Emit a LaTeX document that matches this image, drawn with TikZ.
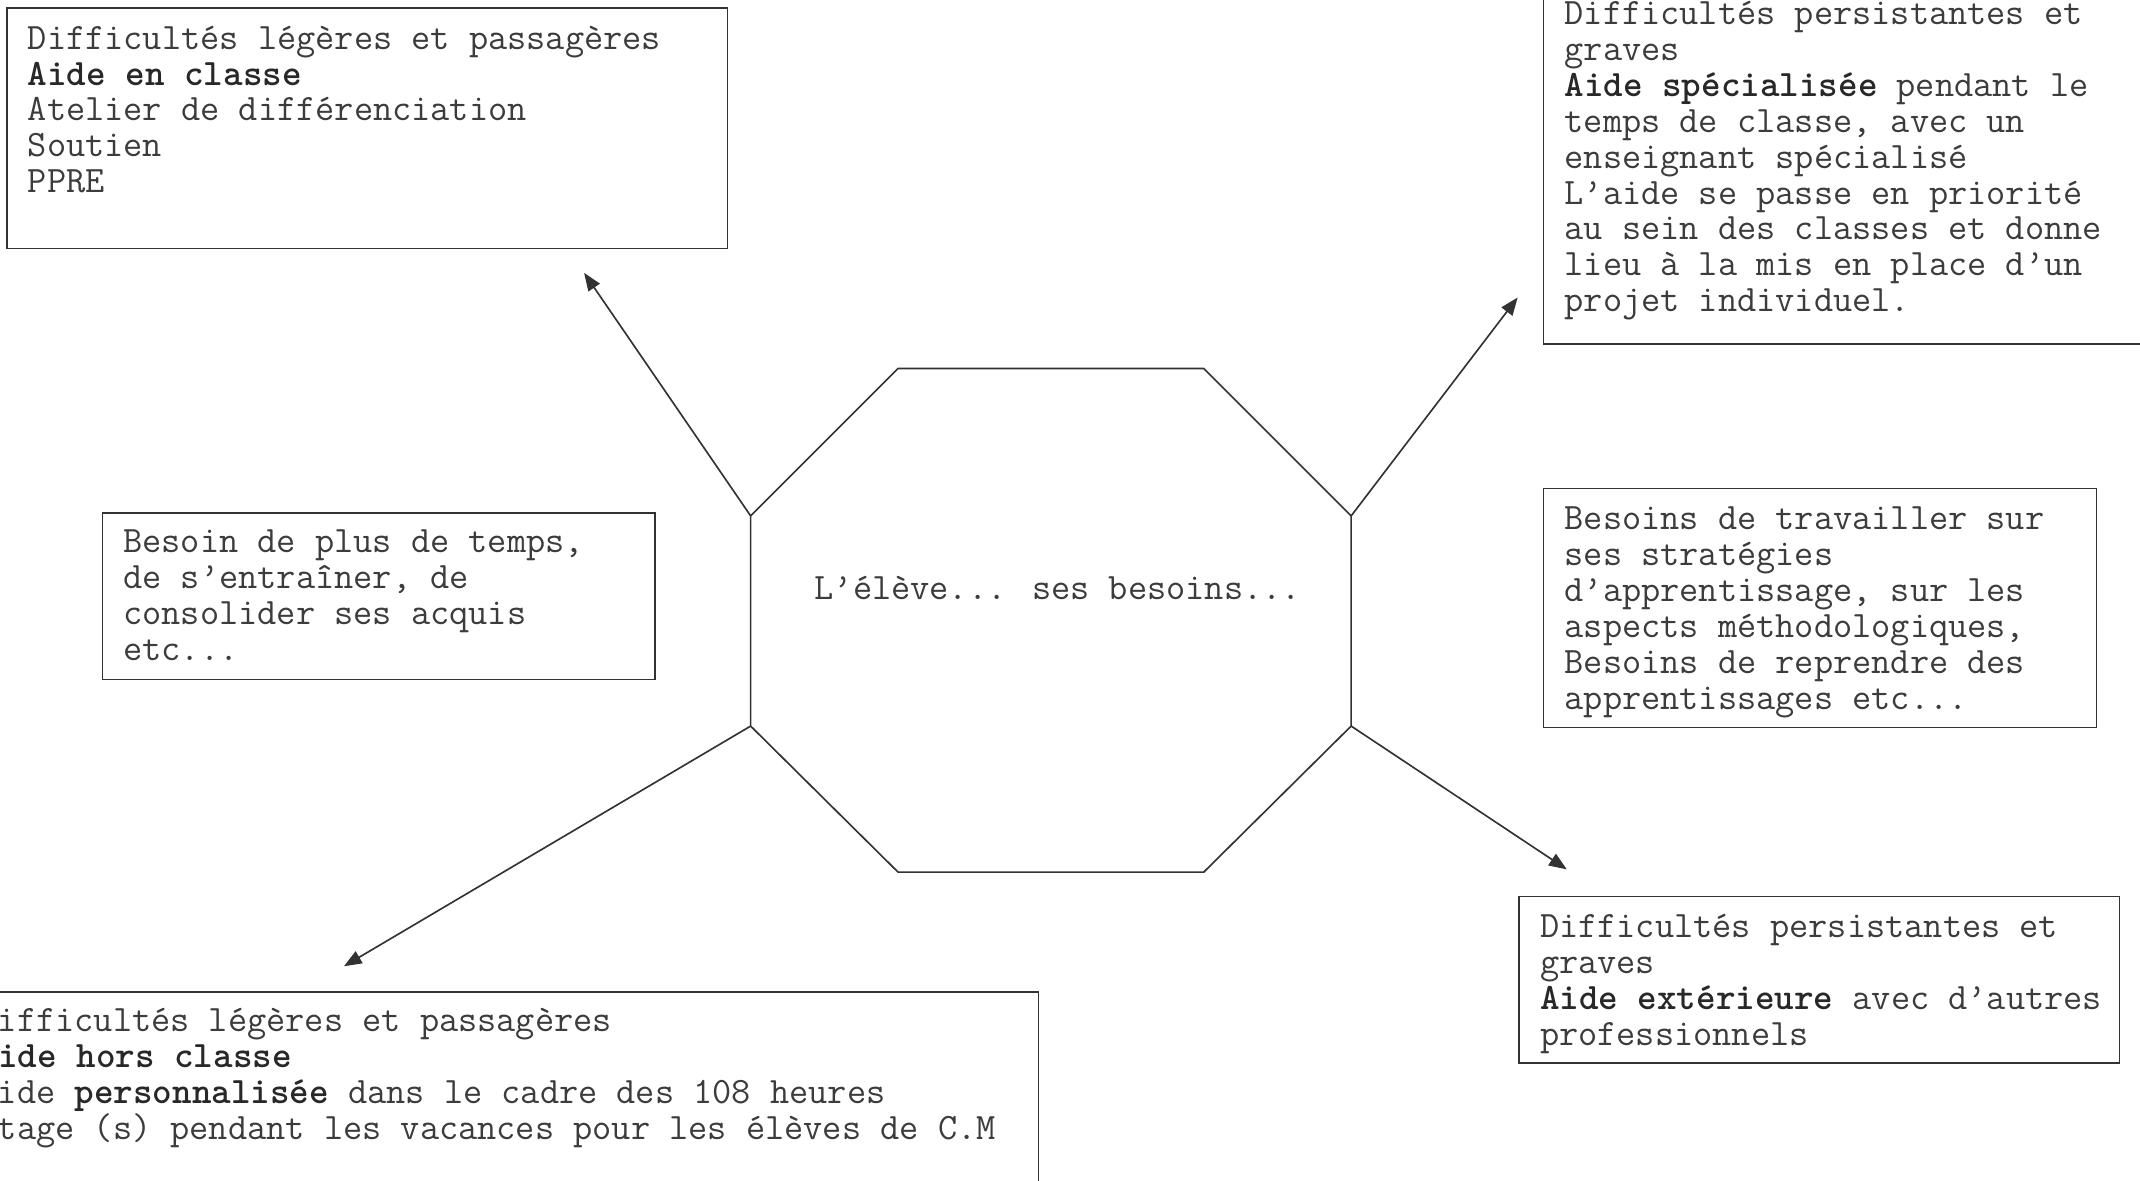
\documentclass[tikz,border=0pt]{standalone}
\usepackage{fontspec}
\usetikzlibrary{arrows.meta,fit}
\definecolor{linec}{RGB}{50,50,50}
\definecolor{textc}{RGB}{60,60,60}
\definecolor{boldc}{RGB}{40,40,40}
\newcommand\monofam{\ttfamily}
\newcommand\bx[1]{\textbf{\color{boldc}#1}}
\newcommand\boxlines[1]{\parbox[t]{14cm}{\fontsize{13.65pt}{13.15pt}\selectfont\monofam\raggedright #1}}
\begin{document}
\begin{tikzpicture}[x=0.5pt,y=-0.5pt,
  box/.style={draw=linec, line width=0.6pt, inner sep=0pt, outer sep=0pt},
  txt/.style={anchor=base west, inner sep=0pt, text=textc},
  arr/.style={draw=linec, line width=0.6pt, -{Triangle[length=6.5pt,width=5pt]}}]
\useasboundingbox (0,0) rectangle (1568,865);
\fill[white] (0,0) rectangle (1568,865);

% boxes
\node[box, fit={(5,6) (533,182)}] (tlbox) {};
\node[box, fit={(1131,-20) (1620,252)}] (trbox) {};
\node[box, fit={(75,376) (480,498)}] (mlbox) {};
\node[box, fit={(1131,358) (1536,533)}] (mrbox) {};
\node[box, fit={(1113,657) (1553,779)}] (brbox) {};
\node[box, fit={(-31,727) (761,900)}] (blbox) {};

% texts
\node[txt] (tlt) at (20,36) {\boxlines{Difficultés légères et passagères\\\bx{Aide en classe}\\Atelier de différenciation\\Soutien\\PPRE}};
\node[txt] (trt) at (1146,18) {\boxlines{Difficultés persistantes et\\graves\\\bx{Aide spécialisée} pendant le\\temps de classe, avec un\\enseignant spécialisé\\L’aide se passe en priorité\\au sein des classes et donne\\lieu à la mis en place d’un\\projet individuel.}};
\node[txt] (mlt) at (90,405) {\boxlines{Besoin de plus de temps,\\de s’entraîner, de\\consolider ses acquis\\etc...}};
\node[txt] (mrt) at (1146,388) {\boxlines{Besoins de travailler sur\\ses stratégies\\d’apprentissage, sur les\\aspects méthodologiques,\\Besoins de reprendre des\\apprentissages etc...}};
\node[txt] (brt) at (1128,687) {\boxlines{Difficultés persistantes et\\graves\\\bx{Aide extérieure} avec d’autres\\professionnels}};
\node[txt] (blt) at (-16,756) {\boxlines{Difficultés légères et passagères\\\bx{Aide hors classe}\\Aide \bx{personnalisée} dans le cadre des 108 heures\\Stage (s) pendant les vacances pour les élèves de C.M}};

% octagon
\coordinate (o1) at (658,270);
\coordinate (o2) at (882,270);
\coordinate (o3) at (990,378);
\coordinate (o4) at (990,532);
\coordinate (o5) at (882,639);
\coordinate (o6) at (658,639);
\coordinate (o7) at (550,532);
\coordinate (o8) at (550,378);
\draw[draw=linec, line width=0.6pt] (o1) -- (o2) -- (o3) -- (o4) -- (o5) -- (o6) -- (o7) -- (o8) -- cycle;
\node[anchor=base, inner sep=0pt, text=textc, font=\fontsize{13.65pt}{13.15pt}\selectfont\monofam] (ctr) at (775,439) {L’élève... ses besoins...};

% arrows
\coordinate (a1) at (428,200);
\coordinate (a2) at (1112,218);
\coordinate (a3) at (252,708);
\coordinate (a4) at (1148,637);
\draw[arr] (o8) -- (a1);
\draw[arr] (o3) -- (a2);
\draw[arr] (o7) -- (a3);
\draw[arr] (o4) -- (a4);
\end{tikzpicture}
\end{document}
